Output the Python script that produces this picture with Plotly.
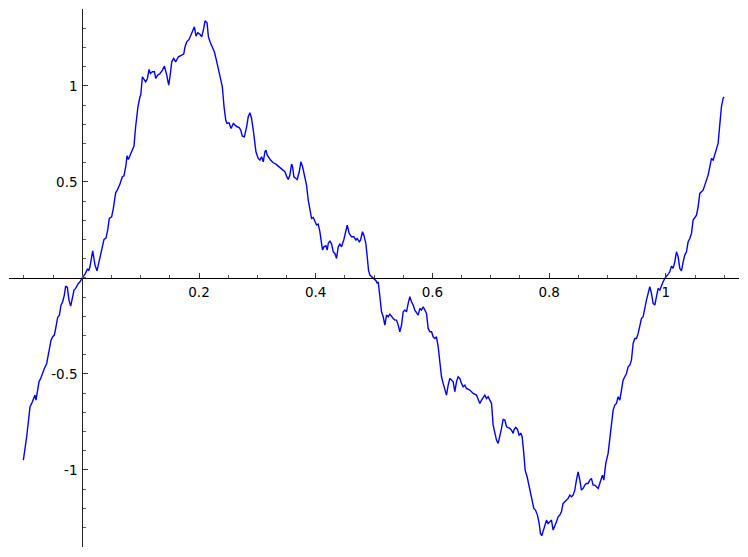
import plotly.graph_objects as go

# curve points, left to right
x_vals = [
    -0.1010, -0.0982, -0.0953, -0.0924, -0.0896, -0.0867, -0.0839, -0.0810, -0.0793, -0.0770,
    -0.0742, -0.0713, -0.0685, -0.0650, -0.0610, -0.0582, -0.0565, -0.0536, -0.0508, -0.0479,
    -0.0451, -0.0422, -0.0393, -0.0365, -0.0336, -0.0308, -0.0285, -0.0256, -0.0228, -0.0199,
    -0.0171, -0.0142, -0.0114, -0.0097, -0.0068, -0.0039, -0.0011,
    0.0000, 0.0046, 0.0092, 0.0109, 0.0132, 0.0178, 0.0218, 0.0252, 0.0280, 0.0320,
    0.0372, 0.0406, 0.0435, 0.0463, 0.0503, 0.0532, 0.0572, 0.0600, 0.0646, 0.0686,
    0.0714, 0.0749, 0.0766, 0.0789, 0.0846, 0.0886, 0.0914, 0.0954, 0.0988,
    0.1002, 0.1030, 0.1064, 0.1087, 0.1116, 0.1144, 0.1167, 0.1201, 0.1236, 0.1259,
    0.1293, 0.1333, 0.1373, 0.1407, 0.1441, 0.1464, 0.1481, 0.1510, 0.1533, 0.1567,
    0.1601, 0.1647, 0.1704, 0.1738, 0.1761, 0.1790, 0.1830, 0.1852, 0.1875, 0.1921,
    0.1949, 0.1978, 0.2012, 0.2047, 0.2081, 0.2104, 0.2138, 0.2161, 0.2195, 0.2229,
    0.2263, 0.2298, 0.2332, 0.2366, 0.2400, 0.2429, 0.2458, 0.2480, 0.2515, 0.2549,
    0.2589, 0.2618, 0.2652, 0.2686, 0.2715, 0.2743, 0.2777,
    0.2816, 0.2844, 0.2873, 0.2901, 0.2930, 0.2958, 0.2976, 0.3015, 0.3044, 0.3073,
    0.3101, 0.3130, 0.3147, 0.3170, 0.3204, 0.3227, 0.3272, 0.3318, 0.3358, 0.3398,
    0.3432, 0.3472, 0.3501, 0.3529, 0.3558, 0.3586, 0.3604, 0.3626, 0.3661, 0.3683,
    0.3718, 0.3746, 0.3775, 0.3815, 0.3843, 0.3872, 0.3900, 0.3929, 0.3958, 0.3986,
    0.4015, 0.4043, 0.4072, 0.4100, 0.4118, 0.4140, 0.4175, 0.4197, 0.4215, 0.4243,
    0.4272, 0.4300, 0.4329, 0.4357, 0.4386, 0.4414, 0.4443, 0.4483, 0.4517, 0.4540,
    0.4574, 0.4614, 0.4654, 0.4689, 0.4711, 0.4746, 0.4768, 0.4802, 0.4825, 0.4859,
    0.4883, 0.4905, 0.4928, 0.4957, 0.4985, 0.5033, 0.5056,
    0.5071, 0.5100, 0.5128, 0.5157, 0.5185, 0.5214, 0.5243, 0.5271, 0.5300, 0.5328,
    0.5357, 0.5385, 0.5414, 0.5442, 0.5471, 0.5499, 0.5528, 0.5556, 0.5585, 0.5613,
    0.5642, 0.5671, 0.5699, 0.5728, 0.5756, 0.5785, 0.5813, 0.5842, 0.5870, 0.5899,
    0.5927, 0.5956, 0.5985, 0.6013, 0.6042, 0.6070, 0.6099, 0.6127, 0.6156, 0.6184,
    0.6213, 0.6241, 0.6270, 0.6299, 0.6327, 0.6356, 0.6384, 0.6413, 0.6441, 0.6470,
    0.6498, 0.6527, 0.6556, 0.6584, 0.6641, 0.6698, 0.6755, 0.6784, 0.6813, 0.6841,
    0.6870, 0.6898, 0.6927, 0.6955,
    0.6984, 0.7013, 0.7041, 0.7070, 0.7098, 0.7127, 0.7155, 0.7184, 0.7212, 0.7241,
    0.7270, 0.7298, 0.7327, 0.7355, 0.7384, 0.7401, 0.7429, 0.7458, 0.7486, 0.7515,
    0.7538, 0.7566, 0.7589, 0.7623, 0.7652, 0.7680, 0.7709, 0.7738, 0.7766, 0.7800,
    0.7829, 0.7852, 0.7874, 0.7897, 0.7926, 0.7955, 0.7983, 0.8012, 0.8040, 0.8069,
    0.8097, 0.8126, 0.8154, 0.8183, 0.8211, 0.8240, 0.8269, 0.8297, 0.8326, 0.8354,
    0.8383, 0.8411, 0.8440, 0.8468, 0.8497, 0.8526, 0.8554, 0.8583, 0.8611, 0.8640,
    0.8668, 0.8697, 0.8725, 0.8754, 0.8782, 0.8811, 0.8840, 0.8868,
    0.8914, 0.8937, 0.8971, 0.9011, 0.9040, 0.9068, 0.9097, 0.9126, 0.9154, 0.9183,
    0.9211, 0.9240, 0.9268, 0.9297, 0.9326, 0.9354, 0.9383, 0.9411, 0.9440, 0.9468,
    0.9497, 0.9526, 0.9554, 0.9583, 0.9611, 0.9640, 0.9668, 0.9697, 0.9725, 0.9754,
    0.9783, 0.9811, 0.9840, 0.9868, 0.9897, 0.9925, 0.9954, 0.9983, 1.0011, 1.0040,
    1.0068, 1.0097, 1.0125, 1.0154, 1.0182, 1.0211, 1.0240, 1.0268, 1.0297, 1.0325,
    1.0354, 1.0382, 1.0411, 1.0440, 1.0468, 1.0497, 1.0525, 1.0554, 1.0582, 1.0611,
    1.0639, 1.0668, 1.0697, 1.0725, 1.0754, 1.0782, 1.0811, 1.0839, 1.0868, 1.0896,
    1.0924, 1.0953, 1.0981, 1.0998,
]
y_vals = [
    -0.9494, -0.8973, -0.8279, -0.7498, -0.6717, -0.6543, -0.6369, -0.6109, -0.6369, -0.5935,
    -0.5415, -0.5241, -0.4981, -0.4720, -0.4460, -0.4026, -0.3592, -0.3245, -0.3071, -0.2984,
    -0.2550, -0.2064, -0.1943, -0.1422, -0.1248, -0.0901, -0.0432, -0.0502, -0.1161, -0.1474,
    -0.1075, -0.0641, -0.0554, -0.0432, -0.0293, -0.0207, -0.0033,
    0.0000, 0.0193, 0.0470, 0.0366, 0.0575, 0.1408, 0.0661, 0.0366, 0.0748, 0.1269,
    0.1998, 0.2068, 0.2484, 0.3092, 0.3179, 0.3613, 0.4429, 0.4567, 0.4880, 0.5262,
    0.5314, 0.5869, 0.6356, 0.6165, 0.6564, 0.6859, 0.7866, 0.8907, 0.9428,
    0.9515, 1.0470, 1.0296, 1.0209, 1.0383, 1.0852, 1.0643, 1.0730, 1.0730, 1.0383,
    1.0557, 1.0643, 1.0817, 1.1025, 1.0643, 1.0209, 1.0036, 1.0643, 1.1251, 1.1425,
    1.1251, 1.1511, 1.1598, 1.1650, 1.2032, 1.2293, 1.2414, 1.2553, 1.2692, 1.3074,
    1.2588, 1.2761, 1.2692, 1.2553, 1.2987, 1.3386, 1.3282, 1.2553, 1.2240, 1.2032,
    1.1772, 1.1338, 1.0817, 1.0296, 0.9949, 0.8907, 0.8213, 0.8039, 0.8074, 0.7779,
    0.8039, 0.7953, 0.7866, 0.7831, 0.7692, 0.7380, 0.7345,
    0.7866, 0.8387, 0.8595, 0.8300, 0.7692, 0.6998, 0.6564, 0.6217, 0.6130, 0.6303,
    0.6043, 0.6564, 0.6651, 0.6390, 0.6217, 0.6130, 0.5991, 0.5922, 0.5817, 0.5696,
    0.5644, 0.5522, 0.5296, 0.5123, 0.5349, 0.5922, 0.5783, 0.5262, 0.5175, 0.5123,
    0.5522, 0.6043, 0.5783, 0.5175, 0.4828, 0.4047, 0.3526, 0.3092, 0.3144, 0.2918,
    0.2745, 0.2797, 0.2397, 0.1790, 0.1443, 0.1616, 0.1668, 0.1443, 0.1790, 0.1929,
    0.1755, 0.1356, 0.1269, 0.1009, 0.1616, 0.1755, 0.1616, 0.1998, 0.2571, 0.2745,
    0.2311, 0.2137, 0.2137, 0.1963, 0.2050, 0.1877, 0.1963, 0.2397, 0.2224, 0.1790,
    0.1095, 0.0401, 0.0141, 0.0054, -0.0033, -0.0155, -0.0293,
    -0.0207, -0.0988, -0.1769, -0.2029, -0.2463, -0.1943, -0.2029, -0.1891, -0.2029, -0.2116,
    -0.2203, -0.2203, -0.2463, -0.2811, -0.2463, -0.1769, -0.1682, -0.1769, -0.1335, -0.0988,
    -0.1248, -0.1422, -0.1682, -0.1856, -0.1943, -0.1595, -0.1682, -0.1509, -0.1647, -0.1856,
    -0.2637, -0.2811, -0.2811, -0.3071, -0.3158, -0.3071, -0.3592, -0.4286, -0.5154, -0.5501,
    -0.5849, -0.6109, -0.5588, -0.5241, -0.5328, -0.5415, -0.5935, -0.5415, -0.5154, -0.5241,
    -0.5501, -0.5675, -0.5588, -0.5762, -0.5849, -0.6022, -0.6109, -0.6283, -0.6543, -0.6369,
    -0.6196, -0.6109, -0.6283, -0.6196,
    -0.6369, -0.6543, -0.7671, -0.8018, -0.8452, -0.8626, -0.8279, -0.7845, -0.7376, -0.7411,
    -0.7758, -0.7793, -0.7845, -0.7932, -0.8105, -0.7897, -0.7793, -0.7897, -0.8192, -0.8105,
    -0.8279, -0.9147, -1.0015, -1.0362, -1.0796, -1.1230, -1.1664, -1.2011, -1.2098, -1.2359,
    -1.2793, -1.3313, -1.3435, -1.3226, -1.2879, -1.2619, -1.2793, -1.2706, -1.2619, -1.3140,
    -1.2966, -1.2706, -1.2445, -1.2359, -1.2185, -1.1751, -1.1664, -1.1577, -1.1490, -1.1317,
    -1.1404, -1.1317, -1.1057, -1.0536, -1.0102, -1.0536, -1.1057, -1.0970, -1.0796, -1.0709,
    -1.0709, -1.0536, -1.0449, -1.0796, -1.0796, -1.0883, -1.0970, -1.0709,
    -1.0275, -1.0536, -0.9668, -0.9147, -0.8279, -0.7585, -0.6890, -0.6630, -0.6543, -0.6196,
    -0.6369, -0.5849, -0.5328, -0.5154, -0.4981, -0.4633, -0.4547, -0.4286, -0.3418, -0.3158,
    -0.3158, -0.2897, -0.2550, -0.2116, -0.2029, -0.1509, -0.1161, -0.0814, -0.0467, -0.0814,
    -0.1335, -0.1422, -0.0988, -0.0554, -0.0641, -0.0380, -0.0207, -0.0033, 0.0054, 0.0193,
    0.0314, 0.0609, 0.0488, 0.0835, 0.1356, 0.1095, 0.0488, 0.0366, 0.0835, 0.1182,
    0.1356, 0.1877, 0.2050, 0.2311, 0.3005, 0.3179, 0.3265, 0.3700, 0.4394, 0.4481,
    0.4567, 0.4828, 0.5088, 0.5349, 0.5783, 0.6217, 0.6130, 0.6390, 0.6651, 0.6998,
    0.7953, 0.8907, 0.9341, 0.9428,
]

x_ticks = [0.2, 0.4, 0.6, 0.8, 1.0]
x_labels = ["0.2", "0.4", "0.6", "0.8", "1"]
y_ticks = [-1.0, -0.5, 0.5, 1.0]
y_labels = ["-1", "-0.5", "0.5", "1"]

x_range = [-0.1256, 1.1254]
y_range = [-1.402, 1.400]

fig = go.Figure()
fig.add_trace(go.Scatter(
    x=x_vals, y=y_vals,
    mode='lines',
    line=dict(color='#0000ff', width=1.4),
    hoverinfo='skip',
    showlegend=False
))

tick_font = dict(family='DejaVu Sans', size=13.5, color='black')

# the page body adds an 8px margin, so the figure is a bit smaller than the window
# axes cross at the origin, like a Sage plot
fig.update_layout(
    width=740, height=541,
    margin=dict(l=1, r=9, t=1, b=2, pad=0),
    paper_bgcolor='white', plot_bgcolor='white',
    xaxis=dict(
        range=x_range, showgrid=False, zeroline=False,
        showline=True, linecolor='black', linewidth=1,
        anchor='free', position=(0 - y_range[0]) / (y_range[1] - y_range[0]),
        tickmode='array', tickvals=x_ticks, ticktext=x_labels,
        ticks='inside', ticklen=5, tickwidth=1, tickcolor='#333',
        minor=dict(ticks='inside', ticklen=3, tickwidth=1, tickcolor='#555', dtick=0.05, tick0=0),
        tickfont=tick_font, ticklabelstandoff=2,
    ),
    yaxis=dict(
        range=y_range, showgrid=False, zeroline=False,
        showline=True, linecolor='#222', linewidth=1,
        anchor='free', position=(0 - x_range[0]) / (x_range[1] - x_range[0]),
        tickmode='array', tickvals=y_ticks, ticktext=y_labels,
        ticks='inside', ticklen=5, tickwidth=1, tickcolor='#333',
        minor=dict(ticks='inside', ticklen=3, tickwidth=1, tickcolor='#555', dtick=0.1, tick0=0),
        tickfont=tick_font, ticklabelstandoff=2,
    ),
)

fig.write_html("out.html")
